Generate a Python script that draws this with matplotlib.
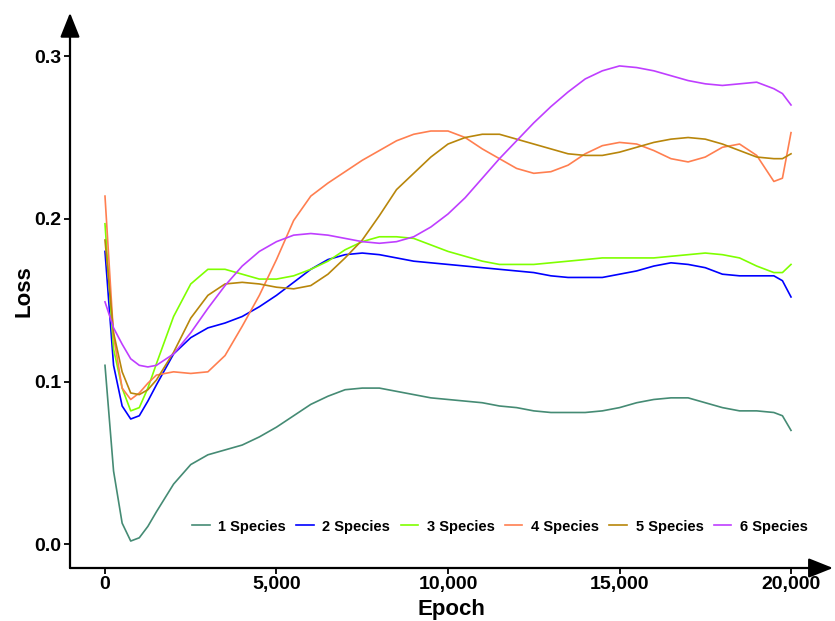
import matplotlib
matplotlib.use("Agg")
import matplotlib.pyplot as plt
from matplotlib.ticker import FuncFormatter

plt.rcParams["font.family"] = ["Liberation Sans", "DejaVu Sans"]
plt.rcParams["font.weight"] = "bold"

# epochs sampled along the smoothed curves
epochs = [0, 250, 500, 750, 1000, 1250, 1500, 2000, 2500, 3000, 3500, 4000,
          4500, 5000, 5500, 6000, 6500, 7000, 7500, 8000, 8500, 9000, 9500,
          10000, 10500, 11000, 11500, 12000, 12500, 13000, 13500, 14000,
          14500, 15000, 15500, 16000, 16500, 17000, 17500, 18000, 18500,
          19000, 19500, 19750, 20000]

loss_1 = [0.110, 0.045, 0.013, 0.002, 0.004, 0.011, 0.020, 0.037, 0.049,
          0.055, 0.058, 0.061, 0.066, 0.072, 0.079, 0.086, 0.091, 0.095,
          0.096, 0.096, 0.094, 0.092, 0.090, 0.089, 0.088, 0.087, 0.085,
          0.084, 0.082, 0.081, 0.081, 0.081, 0.082, 0.084, 0.087, 0.089,
          0.090, 0.090, 0.087, 0.084, 0.082, 0.082, 0.081, 0.079, 0.070]
loss_2 = [0.180, 0.110, 0.085, 0.077, 0.079, 0.088, 0.098, 0.117, 0.127,
          0.133, 0.136, 0.140, 0.146, 0.153, 0.161, 0.169, 0.175, 0.178,
          0.179, 0.178, 0.176, 0.174, 0.173, 0.172, 0.171, 0.170, 0.169,
          0.168, 0.167, 0.165, 0.164, 0.164, 0.164, 0.166, 0.168, 0.171,
          0.173, 0.172, 0.170, 0.166, 0.165, 0.165, 0.165, 0.162, 0.152]
loss_3 = [0.197, 0.120, 0.096, 0.082, 0.084, 0.096, 0.111, 0.140, 0.160,
          0.169, 0.169, 0.166, 0.163, 0.163, 0.165, 0.169, 0.174, 0.181,
          0.186, 0.189, 0.189, 0.188, 0.184, 0.180, 0.177, 0.174, 0.172,
          0.172, 0.172, 0.173, 0.174, 0.175, 0.176, 0.176, 0.176, 0.176,
          0.177, 0.178, 0.179, 0.178, 0.176, 0.171, 0.167, 0.167, 0.172]
loss_4 = [0.214, 0.128, 0.096, 0.089, 0.093, 0.099, 0.104, 0.106, 0.105,
          0.106, 0.116, 0.134, 0.153, 0.175, 0.199, 0.214, 0.222, 0.229,
          0.236, 0.242, 0.248, 0.252, 0.254, 0.254, 0.250, 0.243, 0.237,
          0.231, 0.228, 0.229, 0.233, 0.240, 0.245, 0.247, 0.246, 0.242,
          0.237, 0.235, 0.238, 0.244, 0.246, 0.239, 0.223, 0.225, 0.253]
loss_5 = [0.187, 0.130, 0.106, 0.093, 0.092, 0.095, 0.101, 0.118, 0.139,
          0.153, 0.160, 0.161, 0.160, 0.158, 0.157, 0.159, 0.166, 0.176,
          0.187, 0.202, 0.218, 0.228, 0.238, 0.246, 0.250, 0.252, 0.252,
          0.249, 0.246, 0.243, 0.240, 0.239, 0.239, 0.241, 0.244, 0.247,
          0.249, 0.250, 0.249, 0.246, 0.242, 0.238, 0.237, 0.237, 0.240]
loss_6 = [0.149, 0.133, 0.123, 0.114, 0.110, 0.109, 0.110, 0.117, 0.130,
          0.145, 0.159, 0.171, 0.180, 0.186, 0.190, 0.191, 0.190, 0.188,
          0.186, 0.185, 0.186, 0.189, 0.195, 0.203, 0.213, 0.225, 0.237,
          0.248, 0.259, 0.269, 0.278, 0.286, 0.291, 0.294, 0.293, 0.291,
          0.288, 0.285, 0.283, 0.282, 0.283, 0.284, 0.280, 0.277, 0.270]

labels = ["1 Species", "2 Species", "3 Species", "4 Species", "5 Species", "6 Species"]
colors = ["#458B74", "#0000FF", "#7FFF00", "#FF7F50", "#B8860B", "#BF3EFF"]
x_ticks = [0, 5000, 10000, 15000, 20000]
y_ticks = [0.0, 0.1, 0.2, 0.3]

fig = plt.figure(figsize=(8.35, 6.21), dpi=100)
ax = fig.add_axes([70 / 835, 53 / 621, 763 / 835, 553 / 621])

for ys, lab, col in zip([loss_1, loss_2, loss_3, loss_4, loss_5, loss_6], labels, colors):
    ax.plot(epochs, ys, color=col, lw=1.2, label=lab)

ax.set_xlim(-1020, 21224)
ax.set_ylim(-0.01457, 0.3253)
ax.set_xticks(x_ticks)
ax.set_yticks(y_ticks)
ax.xaxis.set_major_formatter(FuncFormatter(lambda v, p: f"{int(v):,}"))
ax.yaxis.set_major_formatter(FuncFormatter(lambda v, p: f"{v:.1f}"))
ax.tick_params(labelsize=14, length=4, width=1.3, colors="black", pad=2)

for s in ax.spines.values():
    s.set_visible(False)

# axis lines with arrow heads
arrow = dict(arrowstyle="-|>,head_length=0.75,head_width=0.3", mutation_scale=20,
             lw=1.6, color="black", shrinkA=0, shrinkB=0)
ax.annotate("", xy=(0, 1.004), xytext=(0, 0), xycoords="axes fraction", arrowprops=arrow,
            annotation_clip=False)
ax.annotate("", xy=(1, 0), xytext=(0, 0), xycoords="axes fraction", arrowprops=arrow,
            annotation_clip=False)

ax.set_xlabel("Epoch", fontsize=16, fontweight="bold", labelpad=4)
ax.set_ylabel("Loss", fontsize=16, fontweight="bold", labelpad=0)

ax.legend(loc="center right", bbox_to_anchor=(0.967, 0.075), ncol=6, frameon=False,
          borderpad=0, borderaxespad=0, handlelength=1.2, handletextpad=0.6,
          columnspacing=0.7, prop={"weight": "bold", "size": 10.5})

fig.savefig("out.png", dpi=100)
